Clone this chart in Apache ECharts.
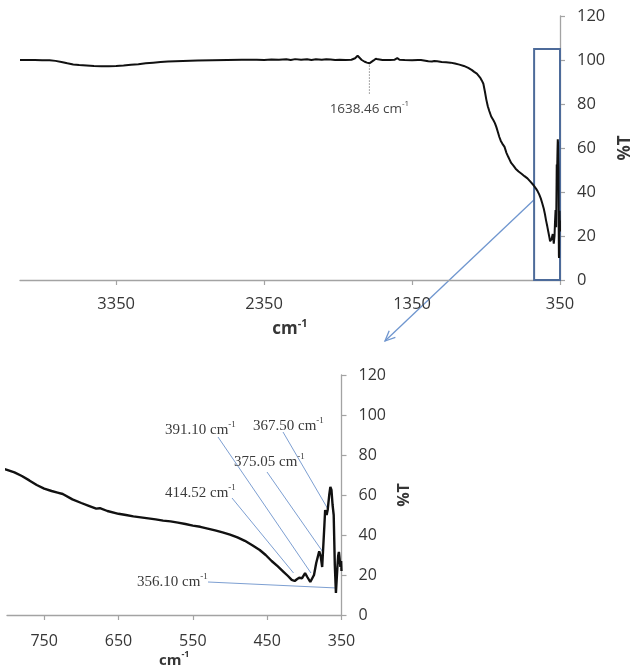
<!DOCTYPE html>
<html>
<head>
<meta charset="utf-8">
<script src="https://cdn.jsdelivr.net/npm/echarts@6/dist/echarts.min.js"></script>
<style>
  html, body { margin: 0; padding: 0; background: #ffffff; }
  #chart { width: 631px; height: 667px; }
</style>
</head>
<body>
<div id="chart"></div>
<script>
// FTIR spectrum: wavenumber (cm-1) and transmittance (%T)
const wavenumber = [
  4000, 3950, 3900, 3850, 3800, 3760, 3720, 3680, 3640, 3600,
  3550, 3500, 3450, 3400, 3350, 3300, 3250, 3200, 3150, 3100,
  3050, 3000, 2900, 2800, 2700, 2600, 2500, 2400, 2350, 2300,
  2250, 2200, 2170, 2140, 2100, 2060, 2030, 2000, 1960, 1930,
  1900, 1870, 1840, 1800, 1760, 1735, 1718, 1705, 1690, 1670,
  1655, 1638.46, 1625, 1610, 1595, 1580, 1550, 1500, 1470, 1450,
  1435, 1400, 1350, 1310, 1300, 1290, 1260, 1240, 1230, 1215,
  1200, 1180, 1150, 1120, 1090, 1060, 1030, 1000, 970, 945,
  930, 922, 912, 900, 890, 878, 868, 858, 848, 838,
  828, 815, 800, 790, 780, 770, 760, 750, 740, 732,
  725, 712, 700, 690, 680, 675, 665, 650, 640, 630,
  620, 610, 600, 590, 580, 570, 560, 550, 540, 530,
  520, 510, 500, 490, 480, 470, 460, 452, 444, 436,
  428, 422, 417, 413, 410, 407, 403, 399, 396, 392,
  390, 387, 384, 382, 380, 378, 376, 374.5, 373, 372,
  370, 368.5, 366.5, 365, 363.5, 362, 360.5, 359, 357.5, 356.5,
  355.5, 354.5, 353.5, 352.5, 351.5, 350.5, 350
];
const transmittance = [
  100.0, 100.0, 100.0, 99.9, 99.9, 99.6, 99.1, 98.5, 98.0, 97.7,
  97.5, 97.3, 97.2, 97.2, 97.3, 97.5, 97.8, 98.1, 98.5, 98.8,
  99.1, 99.3, 99.6, 99.8, 99.9, 100.0, 100.1, 100.1, 100.0, 100.2,
  100.1, 100.3, 100.0, 100.4, 100.1, 100.3, 100.0, 100.3, 100.1, 100.3,
  100.2, 100.0, 100.1, 100.0, 100.1, 100.8, 101.9, 101.2, 100.0, 99.2,
  98.8, 98.5, 98.9, 99.8, 100.6, 100.3, 100.0, 100.0, 100.1, 100.9,
  100.1, 100.0, 99.9, 100.0, 100.6, 100.0, 99.7, 99.4, 99.8, 99.3,
  99.5, 99.4, 99.1, 99.0, 98.8, 98.4, 97.9, 97.3, 96.4, 95.4,
  94.6, 94.8, 93.8, 93.0, 92.0, 90.6, 89.2, 85.8, 82.0, 79.0,
  76.8, 74.3, 72.6, 71.3, 69.5, 67.3, 65.0, 63.2, 62.0, 61.2,
  60.5, 57.8, 56.0, 54.6, 53.2, 53.4, 52.0, 50.6, 50.0, 49.3,
  48.8, 48.3, 47.8, 47.2, 46.8, 46.2, 45.5, 44.7, 44.1, 43.2,
  42.3, 41.3, 40.2, 38.8, 37.1, 34.9, 32.5, 30.0, 27.0, 24.4,
  21.6, 19.5, 17.6, 17.0, 17.9, 18.6, 18.4, 20.9, 19.0, 16.5,
  16.2, 20.0, 26.0, 26.5, 31.8, 29.5, 24.0, 23.5, 45.0, 52.5,
  50.0, 52.8, 60.0, 64.0, 62.5, 55.0, 50.0, 25.0, 11.0, 10.0,
  24.0, 29.5, 31.5, 28.0, 24.0, 27.0, 22.0
];

// Axis ticks
const fullRangeTicks = [3350, 2350, 1350, 350];
const lowRangeTicks = [750, 650, 550, 450, 350];
const percentTicks = [0, 20, 40, 60, 80, 100, 120];

// Annotated bands
const markedBand = 1638.46;
const peakWavenumbers = [414.52, 391.10, 375.05, 367.50, 356.10];
const peakLeaderT = [21, 21, 31.5, 52.5, 13.5];

// Boxed low-wavenumber region on the full spectrum
const boxWavenumbers = [525, 350];
const boxTransmittance = [0, 105];

// ---- styling / layout ----
const AXIS_GRAY = '#a3a3a3';
const TEXT_DARK = '#363636';
const LEADER_BLUE = '#7d9fd2';
const BOX_BLUE = '#4d6b9a';
const ARROW_BLUE = '#6f96cf';
const SANS = '"Open Sans", "DejaVu Sans", sans-serif';
const SERIF = '"Liberation Serif", "DejaVu Serif", serif';

// label box (left x, centre y) and leader start, in pixels, for each peak callout
const calloutLayout = [
  { tx: 165, ty: 492, lx: 232, ly: 498 },
  { tx: 165, ty: 429, lx: 218, ly: 437 },
  { tx: 234, ty: 461, lx: 267, ly: 472 },
  { tx: 253, ty: 425, lx: 283, ly: 432 },
  { tx: 137, ty: 581, lx: 208, ly: 582 }
];
const arrowEnd = { x: 385, y: 341 };

const spectrum = wavenumber.map((w, i) => [w, transmittance[i]]);

function unitName(size) {
  return {
    name: '{b|cm}{s|-1}',
    nameLocation: 'middle',
    nameTextStyle: {
      rich: {
        b: { fontFamily: SANS, fontWeight: 'bold', fontSize: size, color: TEXT_DARK, verticalAlign: 'bottom', lineHeight: size + 3 },
        s: { fontFamily: SANS, fontWeight: 'bold', fontSize: Math.round(size * 0.62), color: TEXT_DARK, verticalAlign: 'top', lineHeight: size * 0.7 }
      }
    }
  };
}

function xAxisFor(gridIndex, min, max, ticks, fontSize, labelMargin, nameSize, nameGap) {
  return Object.assign({
    type: 'value',
    gridIndex: gridIndex,
    inverse: true,
    min: min,
    max: max,
    nameGap: nameGap,
    axisLine: { onZero: false, lineStyle: { color: AXIS_GRAY, width: 1.3 } },
    axisTick: { customValues: ticks, length: 5, lineStyle: { color: AXIS_GRAY, width: 1.2 } },
    axisLabel: {
      customValues: ticks, margin: labelMargin, fontFamily: SANS, fontSize: fontSize, color: TEXT_DARK,
      formatter: v => String(v)
    },
    splitLine: { show: false }
  }, unitName(nameSize));
}

function yAxisFor(gridIndex, fontSize, labelMargin, nameGap, nameSize) {
  return {
    type: 'value',
    gridIndex: gridIndex,
    position: 'right',
    min: 0,
    max: 120,
    interval: 20,
    name: '%T',
    nameLocation: 'middle',
    nameGap: nameGap,
    nameTextStyle: { fontFamily: SANS, fontWeight: 'bold', fontSize: nameSize, color: TEXT_DARK },
    axisLine: { show: true, lineStyle: { color: AXIS_GRAY, width: 1.3 } },
    axisTick: { show: true, length: 5, lineStyle: { color: AXIS_GRAY, width: 1.2 } },
    axisLabel: {
      margin: labelMargin, fontFamily: SANS, fontSize: fontSize, color: TEXT_DARK,
      formatter: v => (percentTicks.indexOf(v) >= 0 ? String(v) : '')
    },
    splitLine: { show: false }
  };
}

const chart = echarts.init(document.getElementById('chart'), null, { renderer: 'canvas' });

chart.setOption({
  animation: false,
  backgroundColor: '#ffffff',
  grid: [
    { left: 20, right: 71, top: 16, bottom: 387, containLabel: false, outerBoundsMode: 'none' },
    { left: 7, right: 289.5, top: 375, bottom: 52, containLabel: false, outerBoundsMode: 'none' }
  ],
  xAxis: [
    xAxisFor(0, 350, 4000, fullRangeTicks, 16.5, 16, 17, 38),
    xAxisFor(1, 350, 800, lowRangeTicks, 16, 18, 15, 35)
  ],
  yAxis: [
    yAxisFor(0, 16.5, 17, 52, 17),
    yAxisFor(1, 16, 17, 43, 16)
  ],
  series: [
    {
      type: 'line',
      xAxisIndex: 0,
      yAxisIndex: 0,
      data: spectrum,
      showSymbol: false,
      smooth: false,
      lineStyle: { color: '#111111', width: 2 },
      markArea: {
        silent: true,
        itemStyle: { color: 'rgba(0,0,0,0)', borderColor: BOX_BLUE, borderWidth: 2 },
        data: [[
          { coord: [boxWavenumbers[0], boxTransmittance[0]] },
          { coord: [boxWavenumbers[1], boxTransmittance[1]] }
        ]]
      }
    },
    {
      type: 'line',
      xAxisIndex: 1,
      yAxisIndex: 1,
      data: spectrum,
      showSymbol: false,
      clip: true,
      lineStyle: { color: '#111111', width: 2.4 }
    }
  ]
});

// Annotations placed from data coordinates
const toPx = (grid, pt) => chart.convertToPixel({ gridIndex: grid }, pt);
const graphics = [];

function supLabel(value, family, size, color) {
  return {
    text: '{n|' + value + ' cm}{s|-1}',
    rich: {
      n: { fontFamily: family, fontSize: size, fill: color, verticalAlign: 'bottom', lineHeight: size + 3 },
      s: { fontFamily: family, fontSize: Math.round(size * 0.62), fill: color, verticalAlign: 'top', lineHeight: size * 0.7 }
    }
  };
}

// dotted marker at the 1638.46 band
const bandIdx = wavenumber.indexOf(markedBand);
const bandTop = toPx(0, [markedBand, transmittance[bandIdx]]);
graphics.push({
  type: 'line', silent: true,
  shape: { x1: bandTop[0], y1: bandTop[1] + 2, x2: bandTop[0], y2: bandTop[1] + 31 },
  style: { stroke: '#8a8a8a', lineWidth: 1, lineDash: [1.5, 1.5] }
});
graphics.push({
  type: 'text', silent: true,
  x: bandTop[0], y: bandTop[1] + 45,
  style: Object.assign(supLabel(markedBand.toFixed(2), SANS, 13.5, '#444444'), { align: 'center', verticalAlign: 'middle' })
});

// arrow from the boxed region to the expanded panel
const boxEdge = toPx(0, [boxWavenumbers[0], 36.5]);
const dx = arrowEnd.x - boxEdge[0], dy = arrowEnd.y - boxEdge[1];
const len = Math.sqrt(dx * dx + dy * dy);
const ux = dx / len, uy = dy / len;
const headLen = 11, spread = 0.42;
function rot(x, y, a) { return [x * Math.cos(a) - y * Math.sin(a), x * Math.sin(a) + y * Math.cos(a)]; }
const h1 = rot(-ux, -uy, spread), h2 = rot(-ux, -uy, -spread);
graphics.push({
  type: 'line', silent: true,
  shape: { x1: boxEdge[0], y1: boxEdge[1], x2: arrowEnd.x, y2: arrowEnd.y },
  style: { stroke: ARROW_BLUE, lineWidth: 1.3 }
});
graphics.push({
  type: 'polyline', silent: true,
  shape: { points: [
    [arrowEnd.x + h1[0] * headLen, arrowEnd.y + h1[1] * headLen],
    [arrowEnd.x, arrowEnd.y],
    [arrowEnd.x + h2[0] * headLen, arrowEnd.y + h2[1] * headLen]
  ] },
  style: { stroke: ARROW_BLUE, lineWidth: 1.3, fill: null }
});

// peak callouts on the expanded panel
peakWavenumbers.forEach((w, i) => {
  const lay = calloutLayout[i];
  const tip = toPx(1, [w, peakLeaderT[i]]);
  graphics.push({
    type: 'line', silent: true,
    shape: { x1: lay.lx, y1: lay.ly, x2: tip[0], y2: tip[1] },
    style: { stroke: LEADER_BLUE, lineWidth: 1 }
  });
  graphics.push({
    type: 'text', silent: true, z: 10,
    x: lay.tx, y: lay.ty,
    style: Object.assign(supLabel(w.toFixed(2), SERIF, 15, '#3a3a3a'), { align: 'left', verticalAlign: 'middle' })
  });
});

chart.setOption({ graphic: graphics });
</script>
</body>
</html>
